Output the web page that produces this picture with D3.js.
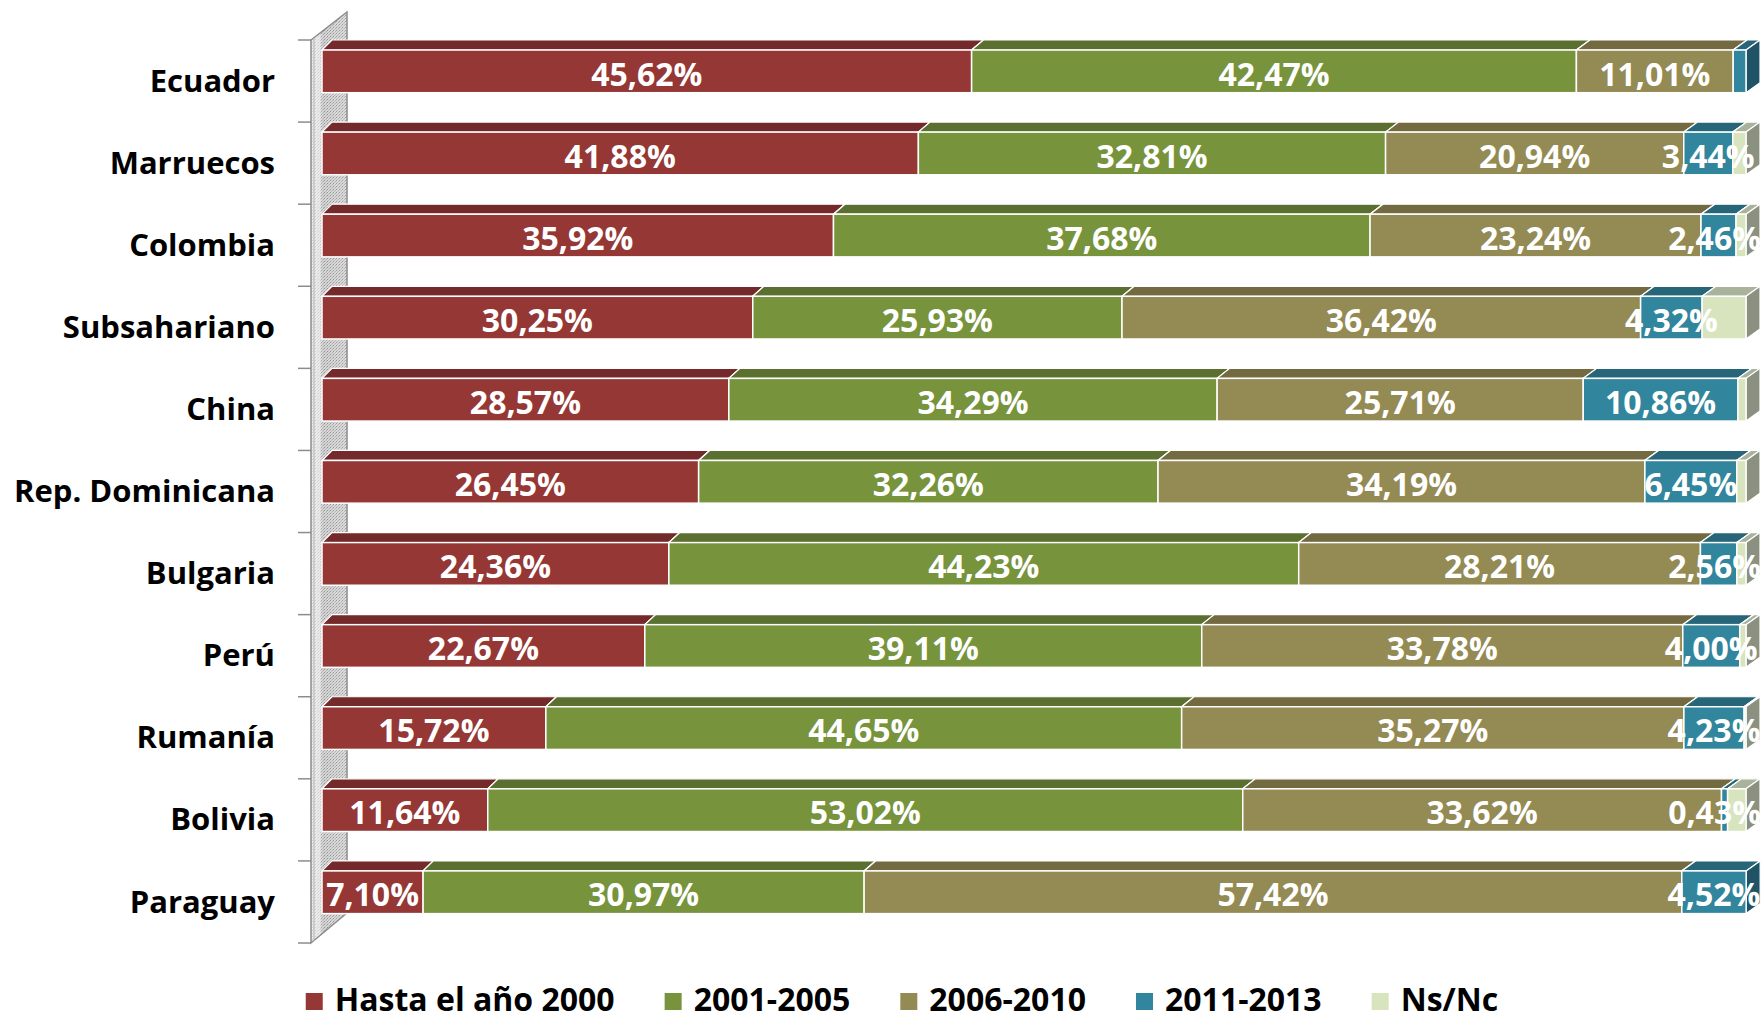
<!DOCTYPE html>
<html>
<head>
<meta charset="utf-8">
<script src="https://cdn.jsdelivr.net/npm/d3@7"></script>
<style>
  body { margin: 0; background: #fff; }
  svg { display: block; }
  text { font-family: "Open Sans", "DejaVu Sans", sans-serif; font-weight: 700; }
</style>
</head>
<body>
<div id="chart"></div>
<script>
// datos (porcentaje por año de llegada)
const categories = ["Ecuador", "Marruecos", "Colombia", "Subsahariano", "China", "Rep. Dominicana",
                    "Bulgaria", "Perú", "Rumanía", "Bolivia", "Paraguay"];
const seriesNames = ["Hasta el año 2000", "2001-2005", "2006-2010", "2011-2013", "Ns/Nc"];
const hasta2000 = [45.62, 41.88, 35.92, 30.25, 28.57, 26.45, 24.36, 22.67, 15.72, 11.64, 7.10];
const p2001_2005 = [42.47, 32.81, 37.68, 25.93, 34.29, 32.26, 44.23, 39.11, 44.65, 53.02, 30.97];
const p2006_2010 = [11.01, 20.94, 23.24, 36.42, 25.71, 34.19, 28.21, 33.78, 35.27, 33.62, 57.42];
const p2011_2013 = [0.90, 3.44, 2.46, 4.32, 10.86, 6.45, 2.56, 4.00, 4.23, 0.43, 4.52];
const nsnc = [0, 0.93, 0.70, 3.08, 0.57, 0.65, 0.64, 0.44, 0.13, 1.29, 0];
// series con etiqueta visible, y etiquetas borradas a mano
const labelledSeries = ["Hasta el año 2000", "2001-2005", "2006-2010", "2011-2013"];
const hiddenLabels = [["Ecuador", "2011-2013"]];

const frontColors = ["#953735", "#77933c", "#948a54", "#31859c", "#d7e4bd"];
const topColors   = ["#74292a", "#5b7030", "#736a41", "#276579", "#a9b39c"];
const sideColors  = ["#5e2221", "#4a5c27", "#5d5635", "#1f5365", "#8b9180"];

const W = 1762, H = 1021;
const svg = d3.select("#chart").append("svg").attr("width", W).attr("height", H);

const rows = categories.map((c, i) => ({
    cat: c,
    "Hasta el año 2000": hasta2000[i],
    "2001-2005": p2001_2005[i],
    "2006-2010": p2006_2010[i],
    "2011-2013": p2011_2013[i],
    "Ns/Nc": nsnc[i]
}));
const stacked = d3.stack().keys(seriesNames)(rows);

const x = d3.scaleLinear().domain([0, 100]).range([322, 1746]);
const y = d3.scaleBand().domain(categories).range([40, 943]);
const color = d3.scaleOrdinal().domain(seriesNames).range(frontColors);

const dy = 10;
const dxAt = v => 10 + 4 * (v - x.range()[0]) / (x.range()[1] - x.range()[0]);
const barOffset = y.bandwidth() * 0.122;
const barH = y.bandwidth() * 0.52;

// pared lateral (efecto 3D)
const defs = svg.append("defs");
const pat = defs.append("pattern").attr("id", "stipple")
    .attr("width", 3).attr("height", 3).attr("patternUnits", "userSpaceOnUse");
pat.append("rect").attr("width", 3).attr("height", 3).attr("fill", "#d2d2d2");
pat.append("rect").attr("width", 1).attr("height", 1).attr("fill", "#8a8a8a");
pat.append("rect").attr("x", 2).attr("y", 1).attr("width", 1).attr("height", 1).attr("fill", "#a6a6a6");
pat.append("rect").attr("x", 1).attr("y", 2).attr("width", 1).attr("height", 1).attr("fill", "#b4b4b4");
const grad = defs.append("linearGradient").attr("id", "wallShade");
grad.append("stop").attr("offset", "0%").attr("stop-color", "#ffffff").attr("stop-opacity", 0.6);
grad.append("stop").attr("offset", "24%").attr("stop-color", "#ffffff").attr("stop-opacity", 0.55);
grad.append("stop").attr("offset", "32%").attr("stop-color", "#ffffff").attr("stop-opacity", 0.05);
grad.append("stop").attr("offset", "100%").attr("stop-color", "#ffffff").attr("stop-opacity", 0.2);

const y0 = y.range()[0], y1 = y.range()[1];
const wallFront = 311, wallBack = 347, wallRise = 28;
const wallPts = [[wallFront, y0], [wallBack, y0 - wallRise], [wallBack, y1 - wallRise - 2], [wallFront, y1]];
svg.append("polygon").attr("points", wallPts.join(" ")).attr("fill", "url(#stipple)");
svg.append("polygon").attr("points", wallPts.join(" ")).attr("fill", "url(#wallShade)")
   .attr("stroke", "#8c8c8c").attr("stroke-width", 1.5);
svg.append("line").attr("x1", wallFront + 3).attr("x2", wallFront + 3)
   .attr("y1", y0 - 2).attr("y2", y1 - 2).attr("stroke", "#b0b0b0").attr("stroke-width", 1);

// marcas del eje en los límites de categoría
const bounds = categories.map(c => y(c)).concat([y1]);
svg.append("g").selectAll("line").data(bounds).enter().append("line")
   .attr("x1", 298).attr("x2", wallFront)
   .attr("y1", d => d).attr("y2", d => d)
   .attr("stroke", "#8c8c8c").attr("stroke-width", 1.5);

// etiquetas de categoría
const yAxis = svg.append("g").attr("transform", `translate(${wallFront},0)`)
    .call(d3.axisLeft(y).tickSize(0).tickPadding(36));
yAxis.select(".domain").remove();
yAxis.selectAll("text")
     .attr("font-size", 31).attr("font-family", "'Open Sans', sans-serif")
     .attr("font-weight", 700).attr("fill", "#000").attr("dy", "0.34em");

// barras 3D
const bars = svg.append("g");
stacked.forEach((layer, si) => {
    layer.forEach((d, ci) => {
        if (d[1] - d[0] <= 0) return;
        const cat = categories[ci];
        const xa = x(d[0]), xb = x(d[1]);
        const yT = y(cat) + barOffset, yB = yT + barH;
        const dxa = dxAt(xa), dxb = dxAt(xb);
        const g = bars.append("g");
        g.append("polygon")
         .attr("points", [[xa, yT], [xb, yT], [xb + dxb, yT - dy], [xa + dxa, yT - dy]].join(" "))
         .attr("fill", topColors[si]).attr("stroke", "#fff").attr("stroke-width", 1.2);
        g.append("polygon")
         .attr("points", [[xb, yT], [xb + dxb, yT - dy], [xb + dxb, yB - dy], [xb, yB]].join(" "))
         .attr("fill", sideColors[si]).attr("stroke", "#fff").attr("stroke-width", 1.2);
        g.append("rect")
         .attr("x", xa).attr("y", yT).attr("width", xb - xa).attr("height", barH)
         .attr("fill", color(layer.key)).attr("stroke", "#fff").attr("stroke-width", 1.5);
    });
});

// etiquetas de datos
const fmt = v => d3.format(".2f")(v).replace(".", ",") + "%";
const labels = svg.append("g");
stacked.forEach(layer => {
    if (!labelledSeries.includes(layer.key)) return;
    layer.forEach((d, ci) => {
        const cat = categories[ci];
        const v = d[1] - d[0];
        if (v <= 0) return;
        if (hiddenLabels.some(h => h[0] === cat && h[1] === layer.key)) return;
        const t = labels.append("text")
              .attr("x", (x(d[0]) + x(d[1])) / 2)
              .attr("y", y(cat) + barOffset + 35.5)
              .attr("text-anchor", "middle")
              .attr("font-size", 32)
              .attr("fill", "#fff")
              .text(fmt(v));
        // que no se salga del lienzo
        const w = t.node().getComputedTextLength();
        const cx = +t.attr("x");
        if (cx + w / 2 > W - 1) t.attr("x", W - 1 - w / 2);
    });
});

// leyenda
const legend = svg.append("g");
let lx = 0;
seriesNames.forEach((s, i) => {
    const item = legend.append("g").attr("transform", `translate(${lx},0)`);
    item.append("rect").attr("x", 0).attr("y", -18).attr("width", 17).attr("height", 17)
        .attr("fill", frontColors[i]);
    const t = item.append("text").attr("x", 29).attr("y", 0)
        .attr("font-size", 32).attr("fill", "#000").text(s);
    lx += 29 + t.node().getComputedTextLength() + 50;
});
const legendW = lx - 50;
legend.attr("transform", `translate(${902 - legendW / 2},1011)`);
</script>
</body>
</html>
